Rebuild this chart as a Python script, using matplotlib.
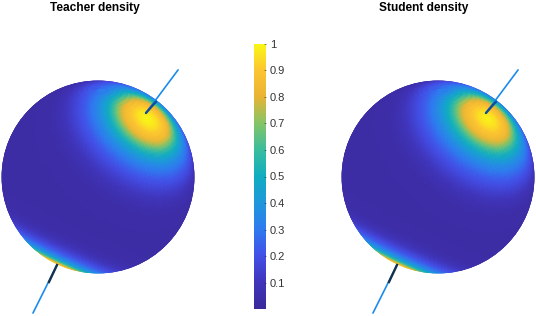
import numpy as np
import matplotlib
matplotlib.use("Agg")
import matplotlib.pyplot as plt
from matplotlib.colors import LinearSegmentedColormap
from matplotlib.patches import Ellipse

plt.rcParams['font.family'] = ['Liberation Sans', 'DejaVu Sans']

# density against angle from each lobe centre
lobe_angle = [0, 6, 15, 21, 25, 30, 38, 45, 52, 60, 75, 90, 180]
teacher_density = [1.0, 0.96, 0.84, 0.62, 0.48, 0.36, 0.23, 0.15, 0.08, 0.04, 0.03, 0.025, 0.025]
student_density = [0.99, 0.95, 0.83, 0.62, 0.49, 0.37, 0.24, 0.16, 0.085, 0.04, 0.03, 0.025, 0.025]

# lobe directions in view coordinates (right, up, towards viewer)
upper_lobe = [0.51, 0.61, 0.61]
lower_lobe = [-0.42, -0.91, -0.04]
lower_spread = 0.8

# axis lines, in sphere radii from the centre
upper_line = ([0.497, 0.83], [0.663, 1.11])
upper_dark = ([0.497, 0.60], [0.663, 0.78])
lower_line = ([-0.425, -0.674], [-0.912, -1.41])
lower_dark = ([-0.425, -0.508], [-0.912, -1.088])

# parula as it looks in the colorbar
parula_pos = [0.0, 0.1, 0.2, 0.3, 0.4, 0.5, 0.6, 0.7, 0.8, 0.9, 1.0]
parula_colors = ['#3b2a9c', '#4035bc', '#4350e8', '#2f7bf0', '#1f98dc', '#10aec0',
                 '#3cbd9e', '#86c566', '#eab434', '#fdc532', '#f9f915']
cmap = LinearSegmentedColormap.from_list('parula', list(zip(parula_pos, parula_colors)))

cbar_ticks = [0.1, 0.2, 0.3, 0.4, 0.5, 0.6, 0.7, 0.8, 0.9, 1]
cbar_labels = ['0.1', '0.2', '0.3', '0.4', '0.5', '0.6', '0.7', '0.8', '0.9', '1']

W, H = 536, 316
R = 96.5


def draw_sphere(cx, cy, density, title, title_x):
    half = 1.6
    ax = fig.add_axes([(cx - half * R) / W, 1 - (cy + half * R) / H,
                       2 * half * R / W, 2 * half * R / H])
    ax.set_xlim(-half, half)
    ax.set_ylim(-half, half)
    ax.axis('off')

    # lat/lon mesh, seen from above
    elev = np.radians(25)
    lat = np.radians(np.linspace(-90, 90, 61))
    lon = np.radians(np.linspace(0, 360, 121))
    LON, LAT = np.meshgrid(lon, lat)
    px = np.cos(LAT) * np.cos(LON)
    py = np.cos(LAT) * np.sin(LON)
    pz = np.sin(LAT)
    u = px
    v = py * np.sin(elev) + pz * np.cos(elev)
    w = -py * np.cos(elev) + pz * np.sin(elev)

    values = np.zeros(u.shape)
    for lobe, spread in ((upper_lobe, 1.0), (lower_lobe, lower_spread)):
        d = np.array(lobe) / np.linalg.norm(lobe)
        ang = np.degrees(np.arccos(np.clip(u * d[0] + v * d[1] + w * d[2], -1, 1)))
        values = np.maximum(values, np.interp(ang / spread, lobe_angle, density))

    # triangles of the side that faces the viewer
    nr, nc = u.shape
    ids = np.arange(nr * nc).reshape(nr, nc)
    a, b, c, e = ids[:-1, :-1].ravel(), ids[:-1, 1:].ravel(), ids[1:, 1:].ravel(), ids[1:, :-1].ravel()
    tris = np.vstack([np.column_stack([a, b, c]), np.column_stack([a, c, e])])
    tris = tris[w.ravel()[tris].max(axis=1) >= 0]

    disc = Ellipse((0, 0), 2, 2, transform=ax.transData)
    mesh = ax.tripcolor(u.ravel(), v.ravel(), tris, values.ravel(), cmap=cmap, vmin=0, vmax=1,
                        shading='gouraud')
    mesh.set_clip_path(disc)
    ax.add_patch(Ellipse((0, 0), 2.02, 2.02, fill=False, ec='white', lw=1.0))

    ax.plot(upper_line[0], upper_line[1], color='#1c8cec', lw=1.2, solid_capstyle='round')
    ax.plot(upper_dark[0], upper_dark[1], color='#0f4f96', lw=1.7, solid_capstyle='round')
    ax.plot(lower_line[0], lower_line[1], color='#1c8cec', lw=1.2, solid_capstyle='round')
    ax.plot(lower_dark[0], lower_dark[1], color='#16304f', lw=1.7)

    fig.text(title_x / W, 1 - 8 / H, title, ha='center', va='center', fontsize=8.6,
             fontweight='bold', color='black')


fig = plt.figure(figsize=(W / 100, H / 100), dpi=100)

draw_sphere(98, 177, teacher_density, 'Teacher density', 95)
draw_sphere(438, 177, student_density, 'Student density', 424)

# colorbar
cax = fig.add_axes([253.5 / W, 1 - 309.5 / H, 12 / W, 266 / H])
grad = np.linspace(0, 1, 256).reshape(-1, 1)
cax.imshow(grad, aspect='auto', origin='lower', cmap=cmap, vmin=0, vmax=1, extent=[0, 1, 0, 1])
cax.set_xticks([])
cax.yaxis.tick_right()
cax.set_yticks(cbar_ticks)
cax.set_yticklabels(cbar_labels, fontsize=8)
cax.tick_params(axis='y', direction='in', length=1.5, width=0.4, pad=3, colors='#333333')
for s in cax.spines.values():
    s.set_visible(False)

fig.savefig('out.png', dpi=100)
